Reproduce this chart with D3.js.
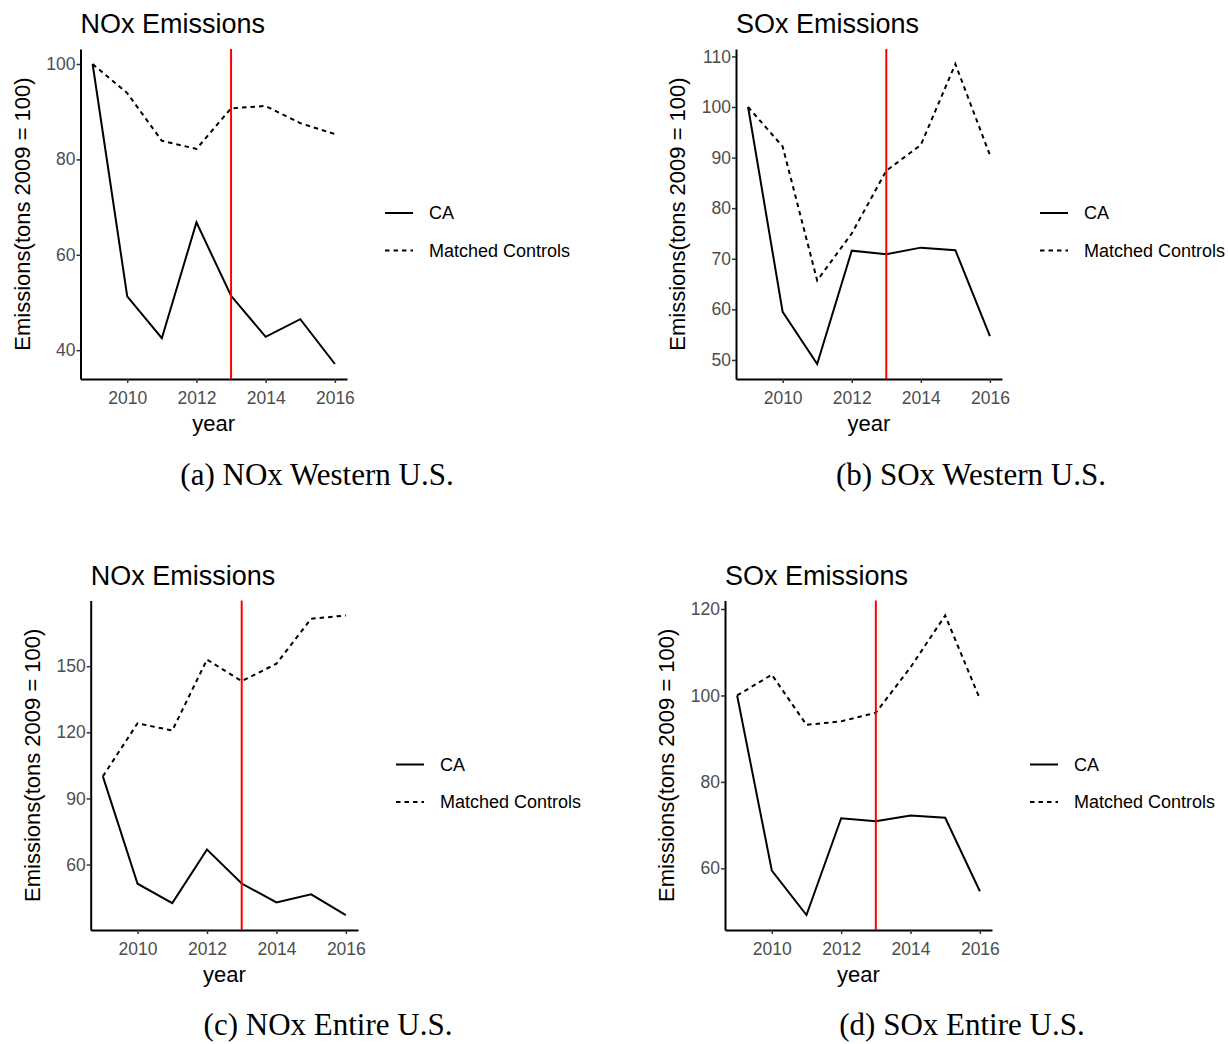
<!DOCTYPE html>
<html>
<head>
<meta charset="utf-8">
<title>NOx and SOx Emissions</title>
<script src="https://cdn.jsdelivr.net/npm/d3@7"></script>
<style>
  html, body { margin: 0; padding: 0; background: #fff; }
  svg text { font-family: "Liberation Sans", Arial, sans-serif; }
  .caption { font-family: "Liberation Serif", "Times New Roman", serif !important; }
</style>
</head>
<body>
<svg id="chart" width="1228" height="1044"></svg>
<script>
// Data (index, 2009 = 100)
const years = [2009, 2010, 2011, 2012, 2013, 2014, 2015, 2016];
const caNOx = [100, 51.3, 42.5, 66.8, 51.4, 42.8, 46.5, 37.1];
const caSOx = [100, 59.5, 49.2, 71.6, 70.9, 72.2, 71.7, 54.7];
const westNOx = [100, 93.9, 83.9, 82.2, 90.7, 91.2, 87.6, 85.3];
const westSOx = [100, 92.2, 65.7, 75.0, 87.4, 92.5, 108.5, 90.5];
const usNOx = [100, 124.1, 120.8, 153.0, 143.2, 151.1, 171.5, 173.0];
const usSOx = [100, 104.8, 93.2, 94.0, 96.0, 106.5, 118.5, 99.2];

const seriesNames = ["CA", "Matched Controls"];
const policyYear = 2013;
const xTicks = [2010, 2012, 2014, 2016];
const yTicksA = [40, 60, 80, 100];
const yTicksB = [50, 60, 70, 80, 90, 100, 110];
const yTicksC = [60, 90, 120, 150];
const yTicksD = [60, 80, 100, 120];
const titles = ["NOx Emissions", "SOx Emissions", "NOx Emissions", "SOx Emissions"];
const captions = ["(a) NOx Western U.S.", "(b) SOx Western U.S.", "(c) NOx Entire U.S.", "(d) SOx Entire U.S."];

// panel layout: plot area box + caption centre
const panels = [
  { ca: caNOx, ctrl: westNOx, ticks: yTicksA, left: 80.5, right: 347, top: 49, bottom: 379, capX: 317, capY: 485 },
  { ca: caSOx, ctrl: westSOx, ticks: yTicksB, left: 736, right: 1002, top: 49, bottom: 379, capX: 971, capY: 485 },
  { ca: caNOx, ctrl: usNOx, ticks: yTicksC, left: 90.7, right: 358, top: 600.5, bottom: 930, capX: 328, capY: 1035 },
  { ca: caSOx, ctrl: usSOx, ticks: yTicksD, left: 725, right: 992, top: 600.5, bottom: 930, capX: 962, capY: 1035 }
];

const svg = d3.select("#chart");
const dash = "4.5,4";

panels.forEach((p, i) => {
  const g = svg.append("g");

  // ggplot style 5% expansion
  const xr = d3.extent(years);
  const xPad = (xr[1] - xr[0]) * 0.05;
  const x = d3.scaleLinear().domain([xr[0] - xPad, xr[1] + xPad]).range([p.left, p.right]);
  const yr = d3.extent(p.ca.concat(p.ctrl));
  const yPad = (yr[1] - yr[0]) * 0.05;
  const y = d3.scaleLinear().domain([yr[0] - yPad, yr[1] + yPad]).range([p.bottom, p.top]);

  // x axis
  const xAxis = g.append("g")
    .attr("transform", `translate(0,${p.bottom})`)
    .call(d3.axisBottom(x).tickValues(xTicks).tickFormat(d3.format("d")).tickSize(4).tickPadding(3).tickSizeOuter(0));
  // y axis
  const yAxis = g.append("g")
    .attr("transform", `translate(${p.left},0)`)
    .call(d3.axisLeft(y).tickValues(p.ticks).tickSize(4).tickPadding(1).tickSizeOuter(0));

  [xAxis, yAxis].forEach(ax => {
    ax.select(".domain").attr("stroke", "#000").attr("stroke-width", 2);
    ax.selectAll(".tick line").attr("stroke", "#333").attr("stroke-width", 1.5);
    ax.selectAll(".tick text").attr("fill", "#4d4d4d").attr("font-size", "17.5px")
      .attr("font-family", '"Liberation Sans", Arial, sans-serif');
  });
  xAxis.selectAll(".tick text").attr("dy", "1em");

  // lines
  const line = d3.line().x((d, k) => x(years[k])).y(d => y(d));
  g.append("path").datum(p.ctrl).attr("d", line)
    .attr("fill", "none").attr("stroke", "#000").attr("stroke-width", 2).attr("stroke-dasharray", dash);
  g.append("path").datum(p.ca).attr("d", line)
    .attr("fill", "none").attr("stroke", "#000").attr("stroke-width", 2);

  // policy year line
  g.append("line")
    .attr("x1", x(policyYear)).attr("x2", x(policyYear))
    .attr("y1", p.top).attr("y2", p.bottom)
    .attr("stroke", "#ff0000").attr("stroke-width", 2);

  // titles
  g.append("text").attr("x", p.left).attr("y", p.top - 16)
    .attr("font-size", "27px").attr("fill", "#000").text(titles[i]);
  g.append("text").attr("x", (p.left + p.right) / 2).attr("y", p.bottom + 52)
    .attr("text-anchor", "middle").attr("font-size", "22px").attr("fill", "#000").text("year");
  g.append("text")
    .attr("transform", `translate(${p.left - 51},${(p.top + p.bottom) / 2}) rotate(-90)`)
    .attr("text-anchor", "middle").attr("font-size", "22px").attr("fill", "#000")
    .text("Emissions(tons 2009 = 100)");

  // legend
  seriesNames.forEach((name, k) => {
    const ly = p.top + 164 + k * 37.5;
    g.append("line")
      .attr("x1", p.right + 38).attr("x2", p.right + 66)
      .attr("y1", ly).attr("y2", ly)
      .attr("stroke", "#000").attr("stroke-width", 2)
      .attr("stroke-dasharray", k === 1 ? dash : null);
    g.append("text").attr("x", p.right + 82).attr("y", ly).attr("dy", "0.36em")
      .attr("font-size", "18px").attr("fill", "#000").text(name);
  });

  // subfigure caption
  g.append("text").attr("class", "caption")
    .attr("x", p.capX).attr("y", p.capY)
    .attr("text-anchor", "middle").attr("font-size", "31px").attr("fill", "#000")
    .text(captions[i]);
});
</script>
</body>
</html>
